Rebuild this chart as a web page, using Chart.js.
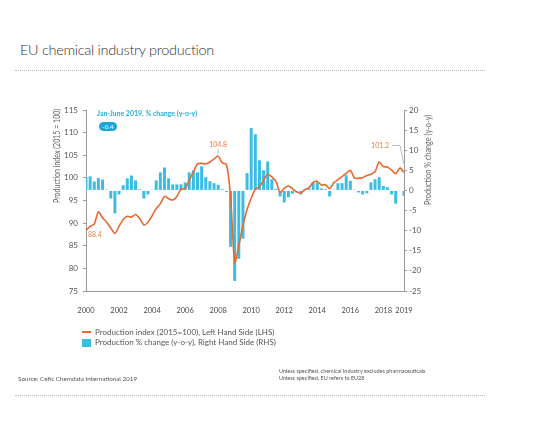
<!DOCTYPE html>
<html>
<head>
<meta charset="utf-8">
<script src="https://cdn.jsdelivr.net/npm/chart.js@4.4.1/dist/chart.umd.min.js"></script>
<style>
  body { margin: 0; background: #fff; font-family: Lato, "Open Sans", sans-serif; }
  #page { position: relative; width: 540px; height: 437px; overflow: hidden; }
  .abs { position: absolute; white-space: nowrap; }
  #title { left: 20px; top: 41px; font-size: 14.5px; letter-spacing: -0.3px; color: #333; font-weight: 300; }
  .dots { position: absolute; left: 15px; width: 470px; border-top: 1px dotted #bbb; }
  #chartBox { position: absolute; left: 0; top: 100px; width: 540px; height: 216px; }
  .ytitle { font-size: 9px; line-height: 11px; color: #666; transform-origin: left top; }
  #hdr { left: 97px; top: 109px; font-size: 7px; font-weight: bold; color: #2aaed8; }
  #badge { left: 99px; top: 122px; width: 18px; height: 9px; border-radius: 5px; background: #1aa6d9;
           color: #fff; font-size: 6.5px; text-align: center; line-height: 9px; }
  .leg { font-size: 8px; color: #555; }
  .small { font-size: 5.5px; color: #555; }
</style>
</head>
<body>
<div id="page">
  <div id="title" class="abs">EU chemical industry production</div>
  <div class="dots" style="top:70px"></div>
  <div class="dots" style="top:395px"></div>

  <div id="chartBox"><canvas id="myChart"></canvas></div>

  <div class="abs ytitle" style="left:51px; top:203px; transform: rotate(-90deg) scaleX(0.78);">Production index (2015 = 100)</div>
  <div class="abs ytitle" style="left:422px; top:205px; transform: rotate(-90deg) scaleX(0.81);">Production % change (y-o-y)</div>

  <div id="hdr" class="abs">Jan-June 2019, % change (y-o-y)</div>
  <div id="badge" class="abs">-0.4</div>

  <div class="abs" style="left:82px; top:331px; width:9px; height:2px; background:#e8692d;"></div>
  <div class="abs leg" style="left:95px; top:327px;">Production index (2015=100), Left Hand Side (LHS)</div>
  <div class="abs" style="left:82px; top:339px; width:9px; height:8px; background:#3bbde3;"></div>
  <div class="abs leg" style="left:95px; top:337px;">Production % change (y-o-y), Right Hand Side (RHS)</div>

  <div class="abs small" style="left:18px; top:375px; font-size:6.3px;">Source: Cefic Chemdata International 2019</div>
  <div class="abs small" style="left:279px; top:368px;">Unless specified, chemical industry excludes pharmaceuticals</div>
  <div class="abs small" style="left:279px; top:375px;">Unless specified, EU refers to EU28</div>
</div>

<script>
// quarterly data, 2000 Q1 - 2019 Q2
var quarters = [];
for (var y = 2000; y <= 2019; y++) {
    for (var q = 1; q <= 4; q++) {
        if (y === 2019 && q > 2) break;
        quarters.push(y + ' Q' + q);
    }
}

// production index (2015 = 100), left axis
var indexValues = [
    88.4, 89.3, 89.8, 92.5, 91.2, 90.2, 88.9, 87.7,
    89.3, 90.8, 91.5, 91.3, 91.9, 91.0, 89.6, 90.2,
    91.6, 93.2, 94.3, 95.9, 95.4, 95.1, 95.9, 97.5,
    97.6, 99.5, 101.3, 103.1, 103.2, 103.1, 103.5, 104.2,
    104.8, 103.3, 103.0, 96.0, 81.3, 85.0, 89.5, 93.0,
    95.5, 97.5, 98.0, 99.5, 100.8, 100.2, 99.2, 96.8,
    97.7, 98.2, 97.6, 96.9, 96.6, 97.4, 97.8, 99.0,
    99.2, 98.4, 98.5, 97.6, 98.9, 99.6, 100.3, 101.0,
    101.7, 100.0, 99.9, 100.1, 100.5, 100.8, 101.4, 103.5,
    102.5, 102.4, 101.7, 100.9, 102.2, 101.2
];

// production % change y-o-y, right axis
var changeValues = [
    3.3, 3.5, 2.2, 3.1, 2.7, 0.2, -2.0, -5.7,
    -1.0, 1.3, 3.0, 3.7, 2.5, 0.3, -2.0, -1.0,
    0.2, 2.5, 4.5, 5.7, 3.0, 1.5, 1.5, 1.5,
    2.0, 4.5, 5.0, 4.5, 6.0, 3.3, 2.3, 1.8,
    1.4, 0.3, -0.4, -14.0, -22.5, -17.0, -12.0, 4.3,
    15.5, 14.0, 7.5, 5.0, 7.2, 2.8, 0.4, -1.5,
    -3.0, -1.7, -0.8, -0.5, -1.0, 0.3, 0.5, 2.0,
    2.0, 0.5, 0.3, -1.5, 0.2, 1.8, 1.8, 3.8,
    2.4, 0.2, -0.5, -1.0, -0.7, 2.0, 2.8, 3.3,
    1.1, 0.8, -1.0, -3.3, 0.1, -1.3
];

// x-axis labels shown
var yearTicks = ['2000', '2002', '2004', '2006', '2008', '2010', '2012', '2014', '2016', '2018', '2019'];

var orange = '#e8692d';
var cyan = '#3bbde3';
var axisGrey = '#9a9a9a';

// value labels on the index line
var labelsPlugin = {
    id: 'valueLabels',
    afterDatasetsDraw: function (chart) {
        var ctx = chart.ctx;
        var pts = chart.getDatasetMeta(1).data;
        var maxIdx = indexValues.indexOf(Math.max.apply(null, indexValues));
        var last = indexValues.length - 1;
        ctx.save();
        ctx.font = '7px Lato';
        ctx.fillStyle = '#e47a45';
        ctx.strokeStyle = '#aaa';
        ctx.lineWidth = 0.8;

        // peak
        var p = pts[maxIdx];
        ctx.textAlign = 'center';
        ctx.textBaseline = 'bottom';
        ctx.fillText(indexValues[maxIdx].toFixed(1), p.x, p.y - 8);
        ctx.beginPath();
        ctx.moveTo(p.x, p.y - 7);
        ctx.lineTo(p.x, p.y - 2);
        ctx.stroke();

        // first point
        p = pts[0];
        ctx.textAlign = 'left';
        ctx.textBaseline = 'top';
        ctx.fillText(indexValues[0].toFixed(1), p.x + 2, p.y + 1);

        // last point with leader line
        p = pts[last];
        var ly = p.y - 27;
        ctx.textAlign = 'right';
        ctx.textBaseline = 'middle';
        ctx.fillText(indexValues[last].toFixed(1), p.x - 15, ly);
        ctx.beginPath();
        ctx.moveTo(p.x - 12, ly);
        ctx.lineTo(p.x - 4, ly);
        ctx.lineTo(p.x, p.y - 8);
        ctx.stroke();
        ctx.restore();
    }
};

var ctx = document.getElementById('myChart').getContext('2d');
var chart = new Chart(ctx, {
    type: 'bar',
    data: {
        labels: quarters,
        datasets: [{
            type: 'bar',
            label: 'Production % change (y-o-y), Right Hand Side (RHS)',
            data: changeValues,
            yAxisID: 'yR',
            backgroundColor: cyan,
            barPercentage: 0.72,
            categoryPercentage: 1,
            order: 2
        }, {
            type: 'line',
            label: 'Production index (2015=100), Left Hand Side (LHS)',
            data: indexValues,
            yAxisID: 'yL',
            borderColor: orange,
            borderWidth: 1.6,
            pointRadius: 0,
            tension: 0.25,
            fill: false,
            order: 1
        }]
    },
    options: {
        responsive: true,
        maintainAspectRatio: false,
        animation: false,
        layout: { padding: { top: 10, left: 0, right: 0, bottom: 0 } },
        plugins: {
            legend: { display: false },
            tooltip: { enabled: false }
        },
        scales: {
            x: {
                offset: false,
                grid: { display: false },
                border: { display: true, color: axisGrey },
                ticks: {
                    autoSkip: false,
                    maxRotation: 0,
                    color: '#4a4a4a',
                    font: { family: 'Lato', size: 7.5 },
                    padding: 7,
                    callback: function (value) {
                        var lab = this.getLabelForValue(value);
                        var yr = lab.slice(0, 4);
                        if (lab === '2019 Q2') return '2019';
                        if (lab.slice(-2) === 'Q1' && yr !== '2019' && yearTicks.indexOf(yr) >= 0) return yr;
                        return '';
                    }
                },
                afterFit: function (scale) { scale.height = 25; }
            },
            yL: {
                position: 'left',
                min: 75,
                max: 115,
                grid: { drawOnChartArea: false, drawTicks: true, tickLength: 3, color: axisGrey },
                border: { display: true, color: axisGrey },
                ticks: { stepSize: 5, color: '#555', font: { family: 'Lato', size: 8 }, padding: 5 },
                afterFit: function (scale) { scale.width = 86; }
            },
            yR: {
                position: 'right',
                min: -25,
                max: 20,
                grid: { drawOnChartArea: false, drawTicks: true, tickLength: 3, color: axisGrey },
                border: { display: true, color: axisGrey },
                ticks: { stepSize: 5, color: '#555', font: { family: 'Lato', size: 8 }, padding: 2 },
                afterFit: function (scale) { scale.width = 136; }
            }
        }
    },
    plugins: [labelsPlugin]
});
</script>
</body>
</html>
